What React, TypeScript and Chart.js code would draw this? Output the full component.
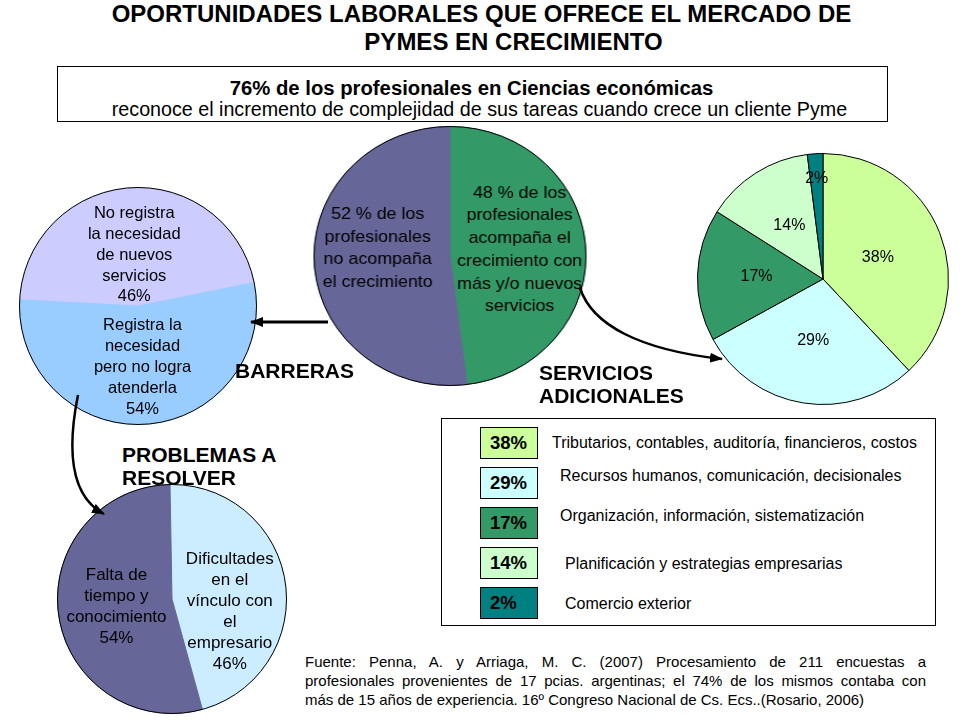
import React, { useEffect, useRef } from 'react';
import { Chart, registerables } from 'chart.js';

Chart.register(...registerables);

const FONT = '"Liberation Sans", Arial, Helvetica, sans-serif';

// ---- data ----
const centerValues = [48, 52];
const centerTexts = [
  ['48 % de los', 'profesionales', 'acompaña el', 'crecimiento con', 'más y/o nuevos', 'servicios'],
  ['52 % de los', 'profesionales', 'no acompaña', 'el crecimiento'],
];
const centerColors = ['#339966', '#666699'];

const barrierValues = [46, 54];
const barrierTexts = [
  ['No registra', 'la necesidad', 'de nuevos', 'servicios'],
  ['Registra la', 'necesidad', 'pero no logra', 'atenderla'],
];
const barrierColors = ['#CCCCFF', '#99CCFF'];

const problemValues = [46, 54];
const problemTexts = [
  ['Dificultades', 'en el', 'vínculo con', 'el', 'empresario'],
  ['Falta de', 'tiempo y', 'conocimiento'],
];
const problemColors = ['#CCECFF', '#666699'];

const serviceValues = [38, 29, 17, 14, 2];
const serviceNames = [
  'Tributarios, contables, auditoría, financieros, costos',
  'Recursos humanos, comunicación, decisionales',
  'Organización, información, sistematización',
  'Planificación y estrategias empresarias',
  'Comercio exterior',
];
const serviceColors = ['#CCFF99', '#CCFFFF', '#339966', '#CCFFCC', '#008080'];

const titleLines = ['OPORTUNIDADES LABORALES QUE OFRECE EL MERCADO DE', 'PYMES EN CRECIMIENTO'];
const boxLines = [
  '76% de los profesionales en Ciencias económicas',
  'reconoce el incremento de complejidad de sus tareas cuando crece un cliente Pyme',
];
const sourceLines = [
  'Fuente: Penna, A. y Arriaga, M. C. (2007) Procesamiento de 211 encuestas a',
  'profesionales provenientes de 17 pcias. argentinas; el 74% de  los mismos contaba con',
  'más de 15 años de experiencia. 16º Congreso Nacional de Cs. Ecs..(Rosario, 2006)',
];

type LabelCfg = {
  lines: string[][];
  size: number;
  lineHeight: number;
  radius: number[];
  dy?: number[];
  outline: boolean;
};

function makeLabelPlugin(cfg: LabelCfg) {
  return {
    id: 'sliceLabels',
    afterDatasetsDraw(chart: any) {
      const ctx = chart.ctx;
      const meta = chart.getDatasetMeta(0);
      ctx.save();
      if (cfg.outline && meta.data.length) {
        const a = meta.data[0];
        ctx.beginPath();
        ctx.arc(a.x, a.y, a.outerRadius, 0, Math.PI * 2);
        ctx.strokeStyle = '#000';
        ctx.lineWidth = 1;
        ctx.stroke();
      }
      ctx.font = `${cfg.size}px ${FONT}`;
      ctx.fillStyle = '#000';
      ctx.textAlign = 'center';
      ctx.textBaseline = 'middle';
      meta.data.forEach((arc: any, i: number) => {
        const mid = (arc.startAngle + arc.endAngle) / 2;
        const f = cfg.radius[i];
        const cx = arc.x + Math.cos(mid) * arc.outerRadius * f;
        const cy = arc.y + Math.sin(mid) * arc.outerRadius * f + (cfg.dy ? cfg.dy[i] : 0);
        const lines = cfg.lines[i];
        lines.forEach((t, k) => {
          ctx.fillText(t, cx, cy + (k - (lines.length - 1) / 2) * cfg.lineHeight);
        });
      });
      ctx.restore();
    },
  };
}

type PieProps = {
  values: number[];
  colors: string[];
  rotation: number;
  lines: string[][];
  cx: number;
  cy: number;
  r: number;
  size: number;
  lineHeight: number;
  radius: number[];
  dy?: number[];
  scaleX?: number;
  slicesOutlined?: boolean;
};

function Pie(p: PieProps) {
  const ref = useRef<HTMLCanvasElement>(null);
  useEffect(() => {
    if (!ref.current) return;
    const chart = new Chart(ref.current, {
      type: 'pie',
      data: {
        labels: p.values.map((_, i) => String(i)),
        datasets: [
          {
            data: p.values,
            backgroundColor: p.colors,
            borderColor: p.slicesOutlined ? '#000' : p.colors,
            borderWidth: 1,
            hoverOffset: 0,
          },
        ],
      },
      options: {
        responsive: false,
        animation: false,
        rotation: p.rotation,
        events: [],
        layout: { padding: 0 },
        plugins: { legend: { display: false }, tooltip: { enabled: false } },
      },
      plugins: [
        makeLabelPlugin({
          lines: p.lines,
          size: p.size,
          lineHeight: p.lineHeight,
          radius: p.radius,
          dy: p.dy,
          outline: !p.slicesOutlined,
        }),
      ],
    } as any);
    return () => chart.destroy();
  }, []);
  const dim = 2 * p.r + 2;
  return (
    <div
      style={{
        position: 'absolute',
        left: p.cx - dim / 2,
        top: p.cy - dim / 2,
        width: dim,
        height: dim,
        transform: `scaleX(${p.scaleX || 1})`,
        transformOrigin: 'center center',
      }}
    >
      <canvas ref={ref} width={dim} height={dim} style={{ display: 'block' }} />
    </div>
  );
}

function Txt(props: {
  x: number;
  y: number;
  size: number;
  bold?: boolean;
  center?: boolean;
  lh?: number;
  children: React.ReactNode;
}) {
  const lh = props.lh || Math.round(props.size * 1.2);
  const style: React.CSSProperties = {
    position: 'absolute',
    top: props.y - lh / 2,
    lineHeight: `${lh}px`,
    fontSize: props.size,
    fontFamily: FONT,
    fontWeight: props.bold ? 'bold' : 'normal',
    whiteSpace: 'pre',
    color: '#000',
  };
  if (props.center) {
    style.left = props.x - 500;
    style.width = 1000;
    style.textAlign = 'center';
  } else {
    style.left = props.x;
  }
  return <div style={style}>{props.children}</div>;
}

export default function App() {
  const legendTops = [427, 467, 507, 547, 587];
  const descX = [552, 560, 560, 565, 565];
  const descY = [443, 476, 516, 564, 604];
  return (
    <div
      style={{
        position: 'absolute',
        left: 0,
        top: 0,
        width: 960,
        height: 720,
        background: '#fff',
        overflow: 'hidden',
      }}
    >
      <Txt x={481.5} y={13.5} size={24} bold center lh={28}>{titleLines[0]}</Txt>
      <Txt x={513.5} y={41.5} size={24} bold center lh={28}>{titleLines[1]}</Txt>

      <div
        style={{
          position: 'absolute',
          left: 57,
          top: 66,
          width: 831,
          height: 56,
          border: '1px solid #000',
          boxSizing: 'border-box',
        }}
      />
      <Txt x={471.5} y={88} size={20.3} bold center lh={24}>{boxLines[0]}</Txt>
      <Txt x={479.5} y={108.5} size={19.7} center lh={24}>{boxLines[1]}</Txt>

      <Pie
        values={centerValues}
        colors={centerColors}
        rotation={0}
        lines={centerTexts}
        cx={450}
        cy={256}
        r={129}
        size={17}
        lineHeight={22.7}
        radius={[0.513, 0.533]}
        dy={[-2, -12]}
        scaleX={1.05}
      />
      <Pie
        values={barrierValues}
        colors={barrierColors}
        rotation={-87}
        lines={barrierTexts.map((l, i) => [...l, `${barrierValues[i]}%`])}
        cx={137.5}
        cy={305.5}
        r={118}
        size={16.5}
        lineHeight={20.8}
        radius={[0.43, 0.52]}
      />
      <Pie
        values={problemValues}
        colors={problemColors}
        rotation={-1}
        lines={problemTexts.map((l, i) => [...l, `${problemValues[i]}%`])}
        cx={172}
        cy={598.5}
        r={114}
        size={17}
        lineHeight={21}
        radius={[0.51, 0.49]}
        dy={[21, 0]}
      />
      <Pie
        values={serviceValues}
        colors={serviceColors}
        rotation={0}
        lines={serviceValues.map((v) => [`${v}%`])}
        cx={822.5}
        cy={278.5}
        r={125}
        size={16}
        lineHeight={19}
        radius={[0.47, 0.5, 0.53, 0.5, 0.8]}
        slicesOutlined
      />

      <Txt x={235} y={371} size={21} bold lh={24}>BARRERAS</Txt>
      <Txt x={539} y={372.5} size={21} bold lh={24}>SERVICIOS</Txt>
      <Txt x={539} y={396} size={21} bold lh={24}>ADICIONALES</Txt>
      <Txt x={122} y={454.5} size={21} bold lh={24}>PROBLEMAS A</Txt>
      <Txt x={122} y={478} size={21} bold lh={24}>RESOLVER</Txt>

      <div
        style={{
          position: 'absolute',
          left: 441,
          top: 418,
          width: 495,
          height: 208,
          border: '1px solid #000',
          boxSizing: 'border-box',
        }}
      />
      {serviceValues.map((v, i) => (
        <div
          key={'sw' + i}
          style={{
            position: 'absolute',
            left: 480,
            top: legendTops[i],
            width: 58,
            height: 32,
            background: serviceColors[i],
            border: '1px solid #000',
            boxSizing: 'border-box',
            fontFamily: FONT,
            fontWeight: 'bold',
            fontSize: 18.5,
            lineHeight: '30px',
            paddingLeft: 9,
            color: '#000',
          }}
        >
          {`${v}%`}
        </div>
      ))}
      {serviceNames.map((n, i) => (
        <Txt key={'d' + i} x={descX[i]} y={descY[i]} size={16} lh={20}>
          {n}
        </Txt>
      ))}

      <div
        style={{
          position: 'absolute',
          left: 305,
          top: 652,
          width: 621,
          fontFamily: FONT,
          fontSize: 15,
          lineHeight: '19px',
          color: '#000',
        }}
      >
        {sourceLines.map((l, i) => (
          <div
            key={'s' + i}
            style={{
              whiteSpace: 'nowrap',
              textAlign: i < 2 ? 'justify' : 'left',
              textAlignLast: i < 2 ? 'justify' : 'left',
            } as React.CSSProperties}
          >
            {l}
          </div>
        ))}
      </div>

      <svg
        width={960}
        height={720}
        style={{ position: 'absolute', left: 0, top: 0, pointerEvents: 'none' }}
      >
        <defs>
          <marker
            id="ah"
            markerWidth="13"
            markerHeight="10"
            refX="12"
            refY="5"
            orient="auto"
            markerUnits="userSpaceOnUse"
          >
            <path d="M0,0 L13,5 L0,10 z" fill="#000" />
          </marker>
        </defs>
        <path d="M328,322 L251,322" stroke="#000" strokeWidth={3} fill="none" markerEnd="url(#ah)" />
        <path
          d="M580,288 C592,325 640,350 722,359"
          stroke="#000"
          strokeWidth={2.5}
          fill="none"
          markerEnd="url(#ah)"
        />
        <path
          d="M78,395 C68,445 68,495 104,514"
          stroke="#000"
          strokeWidth={2.5}
          fill="none"
          markerEnd="url(#ah)"
        />
      </svg>
    </div>
  );
}
